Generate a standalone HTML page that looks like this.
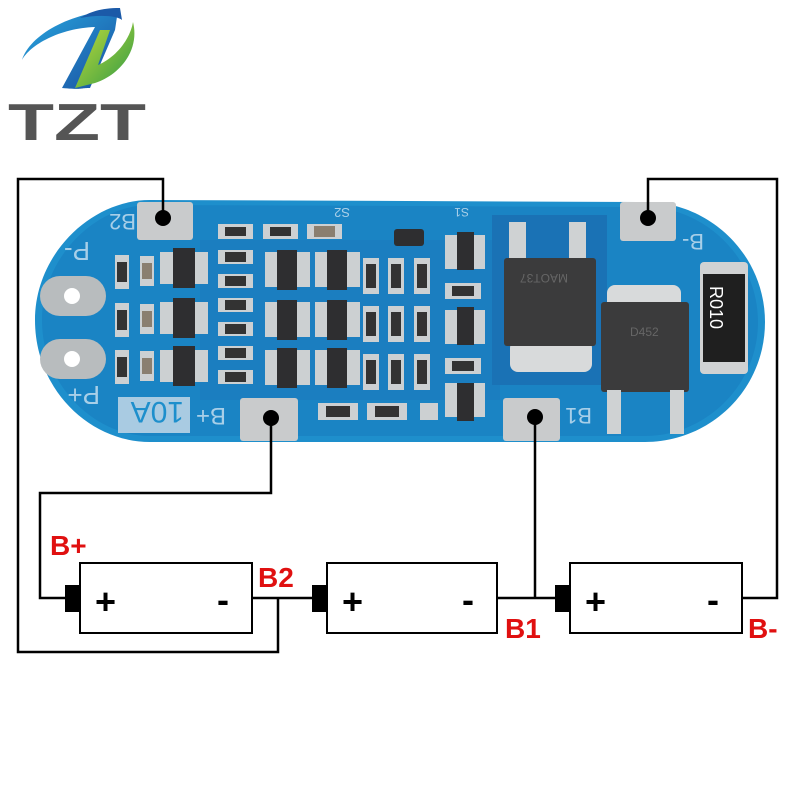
<!DOCTYPE html>
<html><head><style>html,body{margin:0;padding:0;background:#fff}svg{display:block}</style></head><body>
<svg width="800" height="800" viewBox="0 0 800 800" xmlns="http://www.w3.org/2000/svg" font-family="Liberation Sans, sans-serif">
<defs>
<linearGradient id="lb" x1="0" y1="0" x2="1" y2="1"><stop offset="0" stop-color="#27a8e0"/><stop offset="1" stop-color="#1b4fa0"/></linearGradient>
<linearGradient id="lg" x1="0" y1="0" x2="1" y2="1"><stop offset="0" stop-color="#c4dc3a"/><stop offset="1" stop-color="#2e9a45"/></linearGradient>
</defs>
<!-- logo -->
<path d="M118 10 C70 12 30 35 22 60 C30 45 60 28 95 27 L62 88 C85 90 78 88 90 88 L115 30 Z" fill="url(#lb)"/>
<path d="M120 8 C100 8 90 12 80 18 C100 14 118 16 122 20 Z" fill="#1b5aa8"/>
<path d="M133 22 C140 50 120 75 95 83 L75 88 L100 30 L110 30 L98 65 C115 58 130 40 133 22 Z" fill="url(#lg)"/>
<text x="8" y="140" font-size="52" fill="#555" font-weight="bold" textLength="138" lengthAdjust="spacingAndGlyphs">TZT</text>
<!-- PCB -->
<path d="M150 200 L645 202 C710 202 765 255 765 322 C765 390 710 442 645 442 L150 442 C90 442 35 390 35 320 C35 255 90 200 150 200 Z" fill="#1e8fcc"/>
<path d="M150 205 L645 207 C705 207 758 258 758 322 C758 386 705 436 645 436 L150 436 C95 436 42 386 42 320 C42 258 95 205 150 205 Z" fill="#1a84c4"/>
<rect x="200" y="240" width="300" height="160" fill="#1b7ec0"/>
<rect x="492" y="215" width="115" height="170" fill="#1a72b5"/>
<!-- holes -->
<rect x="40" y="276" width="66" height="40" rx="20" fill="#b8bcbe"/><circle cx="72" cy="296" r="8" fill="#fff"/>
<rect x="40" y="339" width="66" height="40" rx="20" fill="#b8bcbe"/><circle cx="72" cy="359" r="8" fill="#fff"/>
<text x="60" y="262" font-size="26" fill="#a8cfe8" transform="rotate(180 75 252)">P-</text>
<text x="60" y="408" font-size="26" fill="#a8cfe8" transform="rotate(180 80 397)">P+</text>
<text x="100" y="230" font-size="22" fill="#a8cfe8" transform="rotate(180 118 222)">B2</text>
<text x="198" y="428" font-size="24" fill="#a8cfe8" transform="rotate(180 212 418)">B+</text>
<rect x="118" y="397" width="72" height="36" fill="#a9cbe2"/>
<text x="124" y="428" font-size="30" fill="#1e8fcc" transform="rotate(180 154 415)">10A</text>
<text x="564" y="428" font-size="22" fill="#a8cfe8" transform="rotate(180 578 418)">B1</text>
<text x="680" y="250" font-size="22" fill="#a8cfe8" transform="rotate(180 692 242)">B-</text>
<text x="330" y="218" font-size="13" fill="#a8cfe8" transform="rotate(180 340 213)">S2</text>
<text x="455" y="218" font-size="12" fill="#a8cfe8" transform="rotate(180 462 213)">S1</text>
<!-- pads -->
<rect x="137" y="202" width="56" height="38" rx="3" fill="#c9cbcc"/>
<rect x="620" y="202" width="56" height="39" rx="3" fill="#c9cbcc"/>
<rect x="240" y="398" width="58" height="43" rx="3" fill="#c9cbcc"/>
<rect x="503" y="398" width="57" height="43" rx="3" fill="#c9cbcc"/>
<!-- small components -->
<g fill="#ccd0d2">
<rect x="218" y="224" width="35" height="15"/><rect x="263" y="224" width="35" height="15"/><rect x="307" y="224" width="35" height="15"/>
<rect x="218" y="250" width="35" height="14"/><rect x="218" y="274" width="35" height="14"/><rect x="218" y="298" width="35" height="14"/><rect x="218" y="322" width="35" height="14"/><rect x="218" y="346" width="35" height="14"/><rect x="218" y="370" width="35" height="14"/>
<rect x="115" y="255" width="14" height="34"/><rect x="115" y="303" width="14" height="34"/><rect x="115" y="350" width="14" height="34"/>
<rect x="140" y="256" width="14" height="30"/><rect x="140" y="304" width="14" height="30"/><rect x="140" y="351" width="14" height="30"/>
<rect x="363" y="258" width="16" height="36"/><rect x="388" y="258" width="16" height="36"/><rect x="414" y="258" width="16" height="36"/>
<rect x="363" y="306" width="16" height="36"/><rect x="388" y="306" width="16" height="36"/><rect x="414" y="306" width="16" height="36"/>
<rect x="363" y="354" width="16" height="36"/><rect x="388" y="354" width="16" height="36"/><rect x="414" y="354" width="16" height="36"/>
<rect x="318" y="403" width="40" height="17"/><rect x="367" y="403" width="40" height="17"/><rect x="445" y="283" width="36" height="16"/><rect x="445" y="358" width="36" height="16"/>
<rect x="420" y="403" width="18" height="17"/>
</g>
<g fill="#333">
<rect x="225" y="227" width="21" height="9"/><rect x="270" y="227" width="21" height="9"/><rect x="314" y="226" width="21" height="11" fill="#8a7f70"/>
<rect x="225" y="252" width="21" height="10"/><rect x="225" y="276" width="21" height="10"/><rect x="225" y="300" width="21" height="10"/><rect x="225" y="324" width="21" height="10"/><rect x="225" y="348" width="21" height="10"/><rect x="225" y="372" width="21" height="10"/>
<rect x="117" y="262" width="10" height="20"/><rect x="117" y="310" width="10" height="20"/><rect x="117" y="357" width="10" height="20"/>
<rect x="142" y="263" width="10" height="16" fill="#8a7f70"/><rect x="142" y="311" width="10" height="16" fill="#8a7f70"/><rect x="142" y="358" width="10" height="16" fill="#8a7f70"/>
<rect x="366" y="264" width="10" height="24"/><rect x="391" y="264" width="10" height="24"/><rect x="417" y="264" width="10" height="24"/>
<rect x="366" y="312" width="10" height="24"/><rect x="391" y="312" width="10" height="24"/><rect x="417" y="312" width="10" height="24"/>
<rect x="366" y="360" width="10" height="24"/><rect x="391" y="360" width="10" height="24"/><rect x="417" y="360" width="10" height="24"/>
<rect x="326" y="406" width="24" height="11"/><rect x="375" y="406" width="24" height="11"/><rect x="452" y="286" width="22" height="10"/><rect x="452" y="361" width="22" height="10"/>
</g>
<!-- SOT chips -->
<g fill="#ccd0d2">
<rect x="160" y="252" width="48" height="32"/><rect x="160" y="302" width="48" height="32"/><rect x="160" y="350" width="48" height="32"/>
<rect x="265" y="252" width="45" height="35"/><rect x="315" y="252" width="45" height="35"/>
<rect x="265" y="302" width="45" height="35"/><rect x="315" y="302" width="45" height="35"/>
<rect x="265" y="350" width="45" height="35"/><rect x="315" y="350" width="45" height="35"/>
<rect x="445" y="235" width="40" height="34"/><rect x="445" y="310" width="40" height="34"/><rect x="445" y="383" width="40" height="34"/>
</g>
<g fill="#2e2e30">
<rect x="173" y="248" width="22" height="40"/><rect x="173" y="298" width="22" height="40"/><rect x="173" y="346" width="22" height="40"/>
<rect x="277" y="250" width="20" height="40"/><rect x="327" y="250" width="20" height="40"/>
<rect x="277" y="300" width="20" height="40"/><rect x="327" y="300" width="20" height="40"/>
<rect x="277" y="348" width="20" height="40"/><rect x="327" y="348" width="20" height="40"/>
<rect x="457" y="232" width="17" height="38"/><rect x="457" y="307" width="17" height="38"/><rect x="457" y="383" width="17" height="38"/>
<rect x="394" y="229" width="30" height="17" rx="3"/>
</g>
<!-- MOSFETs -->
<rect x="509" y="222" width="17" height="40" fill="#cfd2d3"/><rect x="569" y="222" width="17" height="40" fill="#cfd2d3"/>
<rect x="510" y="340" width="82" height="32" rx="8" fill="#d8dadb"/>
<rect x="504" y="258" width="92" height="88" rx="3" fill="#3b3b3c"/>
<rect x="607" y="285" width="74" height="28" rx="8" fill="#d8dadb"/>
<rect x="601" y="302" width="88" height="90" rx="3" fill="#3b3b3c"/>
<rect x="607" y="390" width="14" height="44" fill="#cfd2d3"/><rect x="670" y="390" width="14" height="44" fill="#cfd2d3"/>
<text x="630" y="336" font-size="12" fill="#666">D452</text>
<text x="528" y="282" font-size="12" fill="#666" transform="rotate(180 548 278)">MAOT37</text>
<!-- R010 -->
<rect x="700" y="262" width="48" height="112" rx="4" fill="#d0d2d3"/>
<rect x="703" y="274" width="42" height="88" fill="#1f1f1f"/>
<text x="0" y="0" font-size="18" fill="#fff" transform="translate(710 286) rotate(90)">R010</text>
<!-- wires -->
<g stroke="#000" stroke-width="2.5" fill="none">
<polyline points="163,218 163,179 18,179 18,652 278,652 278,598"/>
<polyline points="648,218 648,179 777,179 777,598 742,598"/>
<polyline points="271,418 271,493 40,493 40,598 68,598"/>
<polyline points="535,417 535,598"/>
<line x1="252" y1="598" x2="322" y2="598"/>
<line x1="497" y1="598" x2="562" y2="598"/>
</g>
<g fill="#000"><circle cx="163" cy="218" r="8"/><circle cx="648" cy="218" r="8"/><circle cx="271" cy="418" r="8"/><circle cx="535" cy="417" r="8"/></g>
<!-- batteries -->
<g stroke="#000" stroke-width="2" fill="#fff">
<rect x="80" y="563" width="172" height="70"/><rect x="327" y="563" width="170" height="70"/><rect x="570" y="563" width="172" height="70"/>
</g>
<g fill="#000"><rect x="65" y="585" width="15" height="27"/><rect x="312" y="585" width="15" height="27"/><rect x="555" y="585" width="15" height="27"/></g>
<g font-size="36" font-weight="bold" fill="#000">
<text x="95" y="614">+</text><text x="217" y="612">-</text>
<text x="342" y="614">+</text><text x="462" y="612">-</text>
<text x="585" y="614">+</text><text x="707" y="612">-</text>
</g>
<g font-size="28" font-weight="bold" fill="#e01010">
<text x="50" y="555">B+</text><text x="258" y="587">B2</text><text x="505" y="638">B1</text><text x="748" y="638">B-</text>
</g>
</svg>
</body></html>
